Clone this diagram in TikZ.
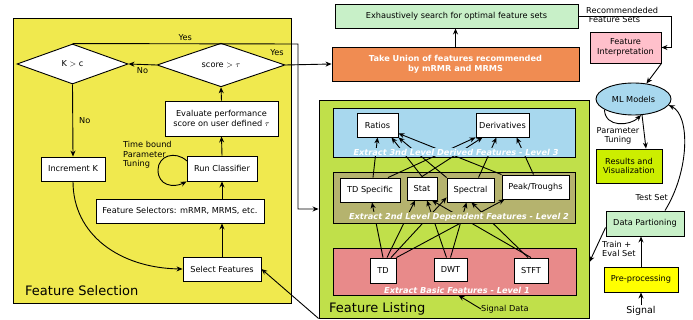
\documentclass[tikz,border=0pt]{standalone}
\usepackage{fontspec}
\setmainfont{DejaVu Sans}
\usetikzlibrary{arrows.meta,shapes.geometric}
\definecolor{fsyel}{RGB}{240,233,78}
\definecolor{flgreen}{RGB}{192,224,74}
\definecolor{lblue}{RGB}{168,216,238}
\definecolor{khaki}{RGB}{181,179,110}
\definecolor{lpink}{RGB}{232,138,138}
\definecolor{mint}{RGB}{200,240,200}
\definecolor{orng}{RGB}{240,140,82}
\definecolor{fipink}{RGB}{255,192,203}
\definecolor{resgreen}{RGB}{204,238,0}
\definecolor{ppyel}{RGB}{255,255,0}
\begin{document}
\begin{tikzpicture}[x=1pt,y=-1pt,
  font=\fontsize{8.2}{9.6}\selectfont,
  box/.style={draw, line width=0.9pt, fill=white, inner sep=1pt, align=center},
  region/.style={draw, line width=0.9pt, inner sep=0pt},
  arr/.style={-{Stealth[length=6pt,width=5pt]}, line width=0.9pt},
  lvl/.style={font=\fontsize{8.2}{9.6}\selectfont\bfseries\itshape, text=white, inner xsep=1pt, inner ysep=1.2pt},
  big/.style={font=\fontsize{13}{15}\selectfont},
  lbl/.style={inner sep=0pt, align=left}]
\useasboundingbox (0,0) rectangle (693,320);

% ---------- regions ----------
\node[region, fill=fsyel, minimum width=278pt, minimum height=285pt] (fs) at (152,160.5) {};
\node[big, anchor=west, inner sep=0pt] (fslab) at (25,291) {Feature Selection};

\node[region, fill=flgreen, minimum width=270pt, minimum height=218pt] (fl) at (454,209) {};
\node[big, anchor=west, inner sep=0pt] (fllab) at (329,309) {Feature Listing};
\node[region, fill=lblue, minimum width=242pt, minimum height=49pt] (l3) at (454,132.5) {};
\node[region, fill=khaki, minimum width=242pt, minimum height=51pt] (l2) at (454,197.5) {};
\node[region, fill=lpink, minimum width=243pt, minimum height=47pt] (l1) at (454.5,271.5) {};

% ---------- feature selection ----------
\node[draw, line width=0.9pt, fill=white, diamond, minimum width=111pt, minimum height=40pt, inner sep=0pt] (kc) at (72.5,64) {K $>$ c};
\node[draw, line width=0.9pt, fill=white, diamond, minimum width=128pt, minimum height=36pt, inner sep=0pt] (sc) at (221,65) {score $>$ $\tau$};
\node[box, minimum width=113pt, minimum height=35pt] (ev) at (221.5,118.5) {Evaluate performance\\score on user defined $\tau$};
\node[box, minimum width=70pt, minimum height=25pt] (run) at (222,168.5) {Run Classifier};
\node[box, minimum width=168pt, minimum height=24pt] (fsel) at (180,211) {Feature Selectors: mRMR, MRMS, etc.};
\node[box, minimum width=78pt, minimum height=24pt] (sel) at (222,269) {Select Features};
\node[box, minimum width=64pt, minimum height=24pt] (inc) at (73,169) {Increment K};
\node[lbl, anchor=north west] (tb) at (123,141) {Time bound\\Parameter\\Tuning};

\draw[arr] (sel.north) -- (sel.north |- fsel.south);
\draw[arr] (run.south |- fsel.north) -- (run.south);
\draw[arr] (run.north) -- (ev.south);
\draw[arr] (ev.north) -- (sc.south);
\draw[arr] (sc.west) -- node[below=3pt, lbl] {No} (kc.east);
\draw[arr] (kc.south) -- node[right=6pt, lbl] {No} (inc.north);
\draw[arr] (inc.south) .. controls (73,235) and (120,268) .. (sel.west);
\draw[arr] (187,161) .. controls (175,150) and (158,156) .. (158,170) .. controls (158,186) and (174,188) .. (run.south west);
\coordinate (yc) at (298,44);
\draw[arr] (kc.north) -- node[above=3pt, lbl] {Yes} (yc) |- (fl.west);
\node[box, fill=orng, minimum width=247pt, minimum height=34pt, text=white, font=\fontsize{8.2}{9.6}\selectfont\bfseries] (or) at (455.5,64) {Take Union of features recommended\\by mRMR and MRMS};
\draw[arr] (sc.east) -- (or.west);
\node[lbl] (yes2) at (277,53) {Yes};
\draw[arr] (fl.south west) -- (sel.east);

% ---------- top right ----------
\node[box, fill=mint, minimum width=243pt, minimum height=24pt] (ex) at (456.5,16) {Exhaustively search for optimal feature sets};
\draw[arr] (or.north) -- (or.north |- ex.south);

% ---------- level boxes ----------
\node[box, minimum width=41pt, minimum height=24pt] (ratios) at (377.5,125) {Ratios};
\node[box, minimum width=53pt, minimum height=24pt] (deriv) at (502.5,125) {Derivatives};
\node[box, minimum width=60pt, minimum height=24pt] (tds) at (370,190) {TD Specific};
\node[box, minimum width=30pt, minimum height=23pt] (stat) at (422,188.5) {Stat};
\node[box, minimum width=47pt, minimum height=24pt] (spec) at (470.5,190) {Spectral};
\node[box, minimum width=67pt, minimum height=24pt] (peak) at (535.5,187) {Peak/Troughs};
\node[box, minimum width=26pt, minimum height=25pt] (td) at (383,270.5) {TD};
\node[box, minimum width=33pt, minimum height=23pt] (dwt) at (450.5,269.5) {DWT};
\node[box, minimum width=34pt, minimum height=25pt] (stft) at (531,270.5) {STFT};

% level 1 -> level 2
\draw[arr] (td.north) -- ([xshift=2pt]tds.south);
\draw[arr] ([xshift=4pt]td.north) -- ([xshift=-7pt]stat.south);
\draw[arr] ([xshift=8pt]td.north) -- ([yshift=5pt]spec.south west);
\draw[arr] (td.north east) -- ([xshift=3pt]peak.south west);
\draw[arr] ([xshift=-4pt]dwt.north) -- ([xshift=5pt]stat.south);
\draw[arr] (dwt.north) -- ([xshift=-4pt]spec.south);
\draw[arr] (stft.north) -- ([xshift=10pt]stat.south);
\draw[arr] ([xshift=-3pt]stft.north) -- ([xshift=1pt]spec.south);
% level 2 -> level 3
\draw[arr] ([xshift=3pt]tds.north) -- (ratios.south);
\draw[arr] ([xshift=18pt]tds.north) -- (deriv.south west);
\draw[arr] (stat.north) -- ([xshift=14pt]ratios.south);
\draw[arr] (stat.north) -- ([xshift=-20pt]deriv.south);
\draw[arr] (spec.north west) -- (ratios.south east);
\draw[arr] ([xshift=8pt]spec.north) -- ([xshift=-6pt]deriv.south);
\draw[arr] (peak.north west) -- ([yshift=4pt]ratios.south east);
\draw[arr] ([xshift=-2pt]peak.north) -- ([xshift=14pt]deriv.south);

% level labels on top of the connectors
\node[lvl, fill=lblue] (l3t) at (456,152) {Extract 3nd Level Derived Features - Level 3};
\node[lvl, fill=khaki] (l2t) at (459,217.5) {Extract 2nd Level Dependent Features - Level 2};
\node[lvl, fill=lpink] (l1t) at (457,290) {Extract Basic Features - Level 1};

\node[lbl, anchor=west] (sd) at (481,309) {Signal Data};
\draw[arr] (sd.west) -- ([xshift=4pt]l1.south);

% ---------- right column ----------
\node[box, fill=fipink, minimum width=71pt, minimum height=31pt] (fi) at (625.5,47.5) {Feature\\Interpretation};
\node[lbl, anchor=west] (rfs) at (586,15) {Recommendeded\\\ Feature Sets};
\draw[arr] (ex.east) -| ([xshift=10pt]fi.east) -- (fi.east);
\node[draw, line width=0.9pt, fill=lblue, ellipse, minimum width=75pt, minimum height=32pt, inner sep=0pt] (ml) at (633.5,99) {ML Models};
\draw[arr] (fi.south east) -- (ml.50);
\draw[arr] (ml.-160) .. controls (605,128) and (630,126) .. (ml.-65);
\node[lbl, align=center] (pt) at (618,136) {Parameter\\Tuning};
\node[box, fill=resgreen, minimum width=66pt, minimum height=34pt] (res) at (629,166) {Results and\\Visualization};
\draw[arr] (ml.-62) -- ([xshift=17pt]res.north);
\node[box, fill=mint, minimum width=78pt, minimum height=25pt] (dp) at (645,223.5) {Data Partioning};
\draw[arr] ([xshift=20pt]dp.north) .. controls (690,170) and (690,115) .. (ml.-10);
\node[lbl, anchor=east] (ts) at (668,198) {Test Set};
\draw[arr] ([yshift=-4pt]dp.west) -- ([yshift=-53pt]fl.east);
\node[lbl, anchor=west] (tes) at (602,249) {Train +\\Eval Set};
\node[box, fill=ppyel, minimum width=74pt, minimum height=25pt] (pp) at (641,279.5) {Pre-processing};
\draw[arr] (pp.north) -- (pp.north |- dp.south);
\node[font=\fontsize{9.5}{11}\selectfont, inner sep=1pt] (sig) at (641,311) {Signal};
\draw[arr] (sig.north) -- (pp.south);
\end{tikzpicture}
\end{document}
